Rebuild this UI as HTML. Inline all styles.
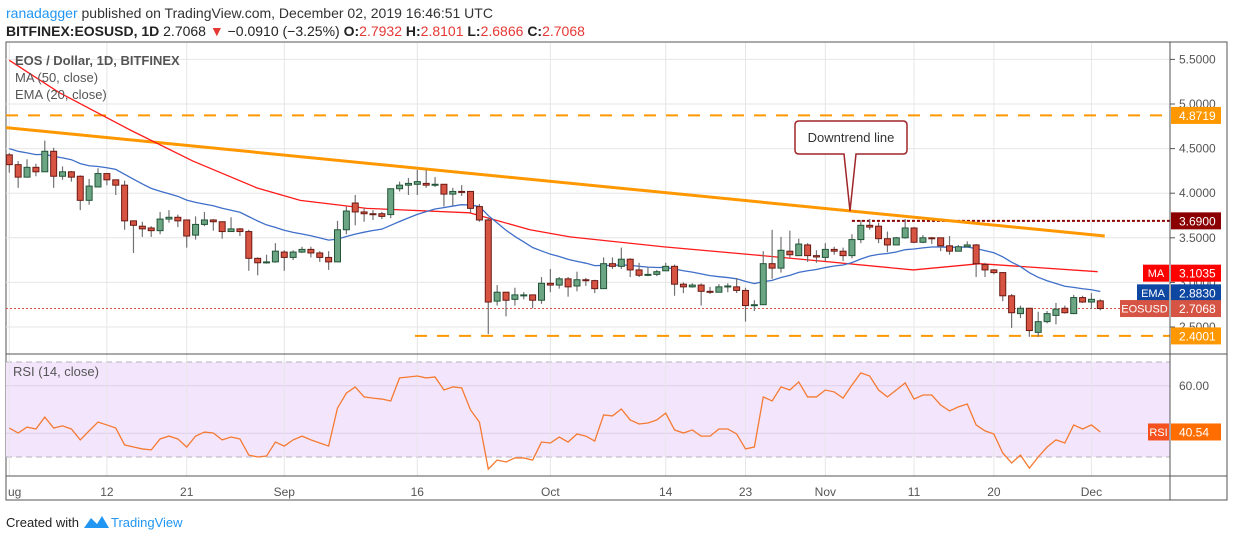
<!DOCTYPE html>
<html><head><meta charset="utf-8">
<style>
html,body{margin:0;padding:0;background:#fff;width:1234px;height:540px;overflow:hidden}
svg{display:block;font-family:"Liberation Sans",sans-serif}
</style></head>
<body>
<svg id="chart" width="1234" height="540" viewBox="0 0 1234 540" xmlns="http://www.w3.org/2000/svg">
<defs>
<clipPath id="pclip"><rect x="6" y="43" width="1164" height="310"/></clipPath>
<clipPath id="rclip"><rect x="6" y="356" width="1164" height="119"/></clipPath>
</defs>
<text x="6" y="18" font-size="14" fill="#333"><tspan fill="#2196f3">ranadagger</tspan> published on TradingView.com, December 02, 2019 16:46:51 UTC</text>
<text x="6" y="36" font-size="14" fill="#222"><tspan font-weight="bold">BITFINEX:EOSUSD, 1D</tspan> 2.7068 <tspan fill="#e53935">▼</tspan> −0.0910 (−3.25%) <tspan font-weight="bold">O:</tspan><tspan fill="#e53935">2.7932</tspan> <tspan font-weight="bold">H:</tspan><tspan fill="#e53935">2.8101</tspan> <tspan font-weight="bold">L:</tspan><tspan fill="#e53935">2.6866</tspan> <tspan font-weight="bold">C:</tspan><tspan fill="#e53935">2.7068</tspan></text>
<rect x="6" y="42" width="1221" height="458" fill="#fff" stroke="#555" stroke-width="1"/>
<rect x="6" y="362" width="1164" height="95" fill="#f3e6fc"/>
<g id="grid"></g>
<g id="price" clip-path="url(#pclip)"></g>
<g id="rsi" clip-path="url(#rclip)"></g>
<line x1="6" y1="354" x2="1227" y2="354" stroke="#555"/>
<line x1="6" y1="476" x2="1227" y2="476" stroke="#555"/>
<line x1="1170" y1="42" x2="1170" y2="500" stroke="#555"/>
<g id="axes"></g>
<text x="15" y="65" font-size="13" font-weight="bold" fill="#555">EOS / Dollar, 1D, BITFINEX</text>
<text x="15" y="82" font-size="13" fill="#555">MA (50, close)</text>
<text x="15" y="99" font-size="13" fill="#555">EMA (20, close)</text>
<text x="13" y="376" font-size="13" fill="#555">RSI (14, close)</text>
<g>
<path d="M799,121 H903 Q907,121 907,125 V150 Q907,154 903,154 H856 L850,211 L844,154 H799 Q795,154 795,150 V125 Q795,121 799,121 Z" fill="#fff" stroke="#a0262a" stroke-width="1.5"/>
<text x="851" y="142" font-size="13" fill="#333" text-anchor="middle">Downtrend line</text>
</g>
<text x="6" y="527" font-size="13" fill="#222">Created with</text>
<path d="M84,528 L91,518 L97,524 L102,516 L109,528 Z" fill="#2196f3"/>
<text x="111" y="527" font-size="13" fill="#2196f3">TradingView</text>
</svg>
<script>
const opens=[4.43,4.32,4.18,4.29,4.24,4.47,4.19,4.24,4.19,3.92,4.07,4.22,4.15,4.09,3.69,3.63,3.61,3.58,3.71,3.73,3.70,3.53,3.65,3.70,3.68,3.57,3.60,3.57,3.27,3.22,3.23,3.34,3.28,3.34,3.37,3.33,3.28,3.23,3.59,3.89,3.79,3.77,3.77,3.76,4.05,4.09,4.10,4.11,4.09,4.10,3.99,4.02,4.02,3.85,3.70,2.79,2.89,2.81,2.855,2.86,2.80,2.99,2.97,3.04,2.96,3.03,3.02,2.93,3.21,3.18,3.26,3.14,3.08,3.09,3.13,3.18,2.98,2.95,2.97,2.90,2.89,2.95,2.95,2.91,2.74,2.75,3.21,3.16,3.35,3.30,3.42,3.30,3.28,3.37,3.35,3.30,3.48,3.64,3.63,3.49,3.42,3.50,3.61,3.45,3.50,3.50,3.41,3.35,3.40,3.42,3.20,3.14,3.11,2.85,2.65,2.71,2.44,2.56,2.63,2.71,2.65,2.83,2.78,2.7932];
const highs=[4.45,4.36,4.38,4.33,4.59,4.51,4.30,4.25,4.20,4.16,4.28,4.22,4.15,4.14,3.69,3.68,3.63,3.79,3.81,3.76,3.70,3.74,3.79,3.71,3.68,3.73,3.61,3.59,3.28,3.31,3.44,3.36,3.36,3.40,3.40,3.35,3.35,3.69,3.85,3.98,3.83,3.81,3.79,4.05,4.13,4.17,4.26,4.26,4.18,4.10,4.06,4.09,4.02,3.88,3.73,2.97,2.89,2.94,2.89,2.86,3.06,3.15,3.06,3.06,3.12,3.05,3.03,3.28,3.28,3.39,3.27,3.22,3.17,3.14,3.22,3.20,3.00,2.99,2.99,2.95,2.98,2.99,3.05,2.94,2.80,3.35,3.59,3.51,3.58,3.49,3.44,3.36,3.44,3.40,3.39,3.54,3.70,3.71,3.67,3.57,3.51,3.71,3.62,3.53,3.51,3.50,3.52,3.42,3.46,3.43,3.22,3.15,3.11,2.87,2.74,2.71,2.67,2.68,2.77,2.74,2.86,2.85,2.88,2.8101];
const lows=[4.23,4.06,4.18,4.19,4.24,4.06,4.15,4.13,3.81,3.87,4.07,4.09,3.98,3.59,3.33,3.51,3.51,3.54,3.67,3.62,3.39,3.48,3.63,3.58,3.49,3.57,3.52,3.13,3.08,3.21,3.22,3.13,3.25,3.33,3.28,3.23,3.14,3.23,3.54,3.64,3.68,3.70,3.71,3.72,4.02,3.98,3.98,4.06,4.07,3.85,3.86,3.97,3.78,3.68,2.42,2.74,2.62,2.74,2.81,2.71,2.76,2.89,2.93,2.84,2.90,2.96,2.88,2.93,3.15,3.15,3.06,3.06,3.07,3.07,3.13,2.85,2.88,2.94,2.74,2.87,2.89,2.89,2.88,2.56,2.68,2.75,3.04,3.11,3.28,3.30,3.23,3.22,3.24,3.31,3.24,3.27,3.44,3.59,3.44,3.34,3.42,3.49,3.44,3.44,3.43,3.35,3.31,3.35,3.39,3.06,3.06,3.09,2.79,2.49,2.60,2.39,2.39,2.54,2.53,2.65,2.65,2.77,2.70,2.6866];
const closes=[4.32,4.18,4.29,4.24,4.47,4.19,4.24,4.18,3.92,4.08,4.22,4.15,4.09,3.69,3.64,3.60,3.58,3.71,3.73,3.69,3.52,3.65,3.70,3.68,3.57,3.60,3.57,3.27,3.22,3.23,3.35,3.28,3.34,3.37,3.33,3.28,3.23,3.59,3.80,3.79,3.77,3.76,3.74,4.05,4.09,4.11,4.13,4.09,4.10,3.99,4.02,4.015,3.83,3.70,2.78,2.89,2.80,2.86,2.86,2.80,2.99,2.97,3.04,2.95,3.03,3.02,2.93,3.21,3.18,3.26,3.14,3.08,3.09,3.12,3.18,2.98,2.95,2.97,2.90,2.895,2.95,2.96,2.91,2.74,2.75,3.21,3.16,3.36,3.31,3.43,3.30,3.285,3.37,3.35,3.30,3.48,3.64,3.62,3.49,3.42,3.50,3.61,3.45,3.50,3.49,3.41,3.35,3.40,3.42,3.21,3.14,3.11,2.85,2.66,2.71,2.46,2.56,2.65,2.70,2.66,2.83,2.78,2.81,2.7068];
const rsiVals=[42.2,40.1,42.6,41.8,46.8,42.2,43.1,41.8,37.2,41.0,44.7,43.5,42.2,35.1,34.2,33.4,33.0,37.6,38.8,37.6,34.2,38.8,40.5,40.1,37.2,38.4,37.6,30.8,30.0,30.4,36.3,34.6,37.2,38.8,37.2,35.9,34.6,50.6,56.9,59.5,55.3,54.8,54.4,53.6,63.3,63.7,64.1,63.3,63.7,58.2,59.5,59.1,49.8,44.7,24.9,28.7,27.9,29.6,29.6,28.7,36.3,35.9,38.4,36.3,39.7,38.8,36.7,47.7,47.3,50.2,45.6,43.9,44.3,45.6,48.5,41.4,40.1,41.4,38.8,38.8,41.8,41.8,39.7,33.4,34.2,55.3,53.6,59.5,58.2,61.6,55.3,55.3,58.2,57.4,54.8,60.3,65.4,64.1,58.2,55.3,58.2,61.2,54.4,56.1,56.1,51.9,49.4,51.1,52.3,43.5,41.0,39.7,31.7,27.5,30.8,25.3,30.0,34.2,37.2,35.9,43.5,41.8,43.5,40.54];
const maIdx=[0,5.6,13.6,20.7,27.9,32.8,40.3,51.9,58.7,63.2,73.7,83.8,91.4,101.9,109.4,122.7];
const maVals=[5.49,5.13,4.71,4.36,4.06,3.92,3.83,3.78,3.59,3.51,3.40,3.31,3.24,3.14,3.21,3.12];
const emaSeed=4.50;
const priceTicks=[5.5,5.0,4.5,4.0,3.5,3.0,2.5];
const priceTickLabels=["5.5000","5.0000","4.5000","4.0000","3.5000","3.0000","2.5000"];
const rsiTicks=[60,40];
const rsiTickLabels=["60.00","40.00"];
const dateIdx=[0,11,20,31,46,61,74,83,92,102,111,122];
const dateLabels=["ug","12","21","Sep","16","Oct","14","23","Nov","11","20","Dec"];
const trendIdx=[-1.05,123.5];
const trendVals=[4.742,3.52];
const resistance=4.8719, support=2.4001, downLevel=3.69, downLevelStart=95;
const maLast=3.1035, emaLast=2.8830, lastClose=2.7068, rsiLast=40.54;

const NS="http://www.w3.org/2000/svg";
const xOf=i=>9.3+i*8.87;
const yP=p=>104+(5-p)*89.2;
const yR=v=>362+(70-v)*2.375;
function mk(tag,attrs,parent){const e=document.createElementNS(NS,tag);for(const k in attrs)e.setAttribute(k,attrs[k]);parent.appendChild(e);return e;}
const grid=document.getElementById('grid'),price=document.getElementById('price'),rsiG=document.getElementById('rsi'),axes=document.getElementById('axes');

priceTicks.forEach((t,i)=>{
  const l=mk('line',{x1:6,x2:1170,y1:yP(t),y2:yP(t),stroke:'#e6e6e6'},grid);
  
  
  const tk=mk('line',{x1:1170,x2:1175,y1:yP(t),y2:yP(t),stroke:'#555'},axes);
  
  
  const tx=mk('text',{x:1179,y:yP(t)+4,'font-size':12,fill:'#555'},axes);
  tx.textContent=priceTickLabels[i];
  
  
});
rsiTicks.forEach((t,i)=>{
  const l=mk('line',{x1:6,x2:1170,y1:yR(t),y2:yR(t),stroke:'#dccde8'},grid);
  
  
  const tx=mk('text',{x:1179,y:yR(t)+4,'font-size':12,fill:'#555'},axes);
  tx.textContent=rsiTickLabels[i];
  
  
});
[70,30].forEach(v=>{
  const l=mk('line',{x1:6,x2:1170,y1:yR(v),y2:yR(v),stroke:'#b8b0c0','stroke-dasharray':'6,4'},grid);
  
  
});
dateIdx.forEach((d,i)=>{
  const x=xOf(d);
  const l=mk('line',{x1:x,x2:x,y1:43,y2:476,stroke:'#e6e6e6'},grid);
  
  
  const tx=mk('text',{x:i===0?8:x,y:496,'font-size':12,fill:'#555','text-anchor':i===0?'start':'middle'},axes);
  tx.textContent=dateLabels[i];
  
  
});

function dashLine(x1,v,color,dash,w,name){
  const l=mk('line',{x1:x1,x2:1170,y1:yP(v),y2:yP(v),stroke:color,'stroke-dasharray':dash,'stroke-width':w},price);
  
  
}
dashLine(6,resistance,'#ff9800','12,10',2,'resistance-line');
dashLine(415,support,'#ff9800','12,10',2,'support-line');
dashLine(xOf(downLevelStart),downLevel,'#8b0000','3,2',2,'downtrend-level-line');
dashLine(6,lastClose,'#d55443','2,2',1,'last-price-line');

const tl=mk('line',{x1:xOf(trendIdx[0]),y1:yP(trendVals[0]),x2:xOf(trendIdx[1]),y2:yP(trendVals[1]),stroke:'#ff9800','stroke-width':3},price);



const maPts=maIdx.map((d,i)=>xOf(d)+','+yP(maVals[i])).join(' ');
const ma=mk('polyline',{points:maPts,fill:'none',stroke:'#ff1a1a','stroke-width':1.3},price);


let e=emaSeed;const a=2/21;const emaPts=[];
closes.forEach((c,i)=>{if(i>0)e=c*a+e*(1-a);emaPts.push(xOf(i)+','+yP(e));});
const em=mk('polyline',{points:emaPts.join(' '),fill:'none',stroke:'#3f6fc9','stroke-width':1.3},price);



closes.forEach((c,i)=>{
  const o=opens[i],x=xOf(i),up=c>=o;
  const w=mk('line',{x1:x,x2:x,y1:yP(highs[i]),y2:yP(lows[i]),stroke:'#737375','stroke-width':1.2},price);
  
  
  const top=yP(Math.max(o,c)),bot=yP(Math.min(o,c));
  const r=mk('rect',{x:x-3,y:top,width:6,height:Math.max(1,bot-top),fill:up?'#6ba583':'#d75442',stroke:up?'#225437':'#6b1a14','stroke-width':1},price);
  
  
});

const rp=mk('polyline',{points:rsiVals.map((v,i)=>xOf(i)+','+yR(v)).join(' '),fill:'none',stroke:'#f57a32','stroke-width':1.3},rsiG);



function tag(v,yf,label,color,name,lblX,lblColor){
  const y=yf(v);
  if(label){
    const lb=mk('rect',{x:lblX,y:y-8.5,width:1169-lblX,height:17,fill:lblColor},axes);
    
    
    const lt=mk('text',{x:(lblX+1169)/2,y:y+4,'font-size':11,fill:'#fff','text-anchor':'middle'},axes);
    lt.textContent=label;
    
    
  }
  const b=mk('rect',{x:1171,y:y-8.5,width:50,height:17,fill:color},axes);
  
  
  const t=mk('text',{x:1179,y:y+4.5,'font-size':12,fill:'#fff'},axes);
  t.textContent=yf===yR?v.toFixed(2):v.toFixed(4);
  
  
}
tag(resistance,yP,null,'#ff9800','resistance');
tag(downLevel,yP,null,'#8b0000','downtrend-level');
tag(maLast,yP,'MA','#ff0000','ma',1143,'#ff0000');
tag(emaLast,yP,'EMA','#0d47a1','ema',1137,'#0d47a1');
tag(lastClose,yP,'EOSUSD','#d55443','eosusd',1120,'#d55443');
tag(support,yP,null,'#ff9800','support');
tag(rsiLast,yR,'RSI','#ff6d00','rsi',1148,'#f4511e');
</script>
</body></html>
